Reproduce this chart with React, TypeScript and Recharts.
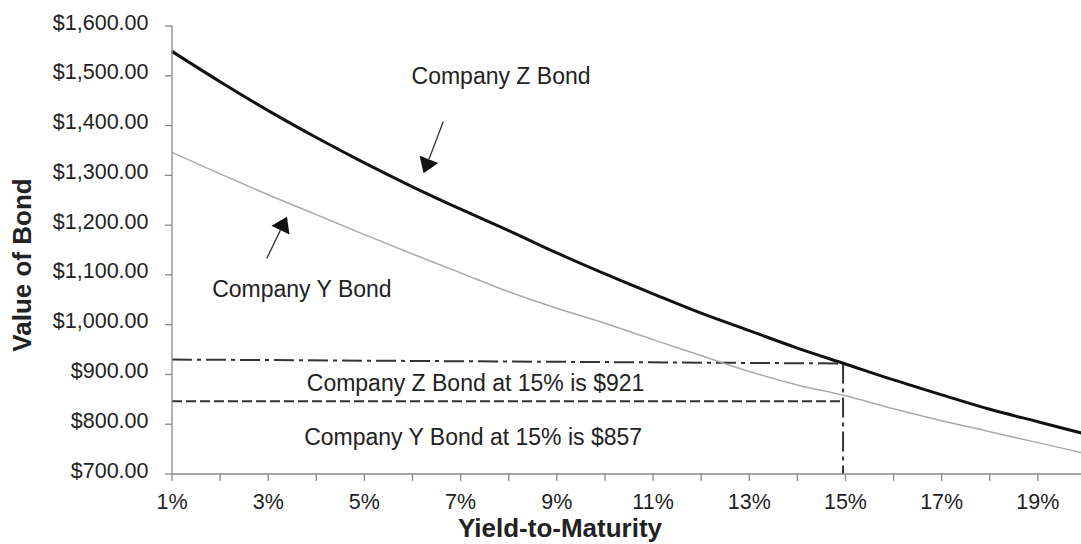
import React from "react";
import {
  LineChart,
  Line,
  XAxis,
  YAxis,
  ReferenceLine,
  ReferenceDot,
} from "recharts";

// yield-to-maturity (%) and bond values
const yields = [1, 2, 3, 4, 5, 6, 7, 8, 9, 10, 11, 12, 13, 14, 15, 16, 17, 18, 19, 20];
const companyZ = [1549, 1488, 1430, 1376, 1325, 1277, 1232, 1189, 1144, 1102, 1062, 1023, 988, 953, 921, 889, 859, 830, 805, 780];
const companyY = [1346, 1303, 1261, 1221, 1181, 1142, 1104, 1066, 1033, 1003, 970, 938, 906, 879, 857, 831, 807, 785, 763, 741];
const yTicks = [700, 800, 900, 1000, 1100, 1200, 1300, 1400, 1500, 1600];

const data = yields.map((ytm, i) => ({
  ytm,
  zBond: companyZ[i],
  yBond: companyY[i],
}));

const FONT = '"Liberation Sans", Arial, Helvetica, sans-serif';
const INK = "#222";
const AXIS = "#888";

const money = (v: number) =>
  "$" + v.toLocaleString("en-US", { minimumFractionDigits: 2, maximumFractionDigits: 2 });

function XTick({ x, y, payload }: any) {
  if (payload.value % 2 === 0) return <g />;
  return (
    <text x={x} y={y + 26} textAnchor="middle" fontSize={21.5} fill={INK} fontFamily={FONT}>
      {payload.value}%
    </text>
  );
}

function YTick({ x, y, payload }: any) {
  return (
    <text x={x} y={y + 3.5} textAnchor="end" fontSize={21.5} fill={INK} fontFamily={FONT}>
      {money(payload.value)}
    </text>
  );
}

// arrow drawn from segment start (tail) to segment end (tip)
function Arrow(props: any) {
  const { x1, y1, x2, y2 } = props;
  const dx = x2 - x1;
  const dy = y2 - y1;
  const len = Math.sqrt(dx * dx + dy * dy);
  const ux = dx / len;
  const uy = dy / len;
  const bx = x2 - ux * 15;
  const by = y2 - uy * 15;
  const nx = -uy * 10;
  const ny = ux * 10;
  return (
    <g>
      <line x1={x1} y1={y1} x2={bx} y2={by} stroke="#333" strokeWidth={1.3} />
      <polygon
        points={`${x2},${y2} ${bx + nx},${by + ny} ${bx - nx},${by - ny}`}
        fill="#111"
      />
    </g>
  );
}

const noteText = (text: string) => (props: any) => (
  <text
    x={props.cx}
    y={props.cy}
    textAnchor="middle"
    fontSize={23}
    fill={INK}
    fontFamily={FONT}
  >
    {text}
  </text>
);

export default function App() {
  return (
    <div
      style={{
        position: "absolute",
        left: 0,
        top: 0,
        width: 1081,
        height: 544,
        overflow: "hidden",
        background: "#fff",
      }}
    >
      <LineChart
        width={1090}
        height={544}
        data={data}
        margin={{ top: 26, right: 4, bottom: 0, left: 0 }}
        style={{ fontFamily: FONT }}
      >
        <XAxis
          dataKey="ytm"
          type="number"
          domain={[1, 20]}
          ticks={yields}
          interval={0}
          height={70}
          tickSize={7}
          tickMargin={2}
          axisLine={{ stroke: AXIS, strokeWidth: 1.3 }}
          tickLine={{ stroke: AXIS, strokeWidth: 1.3 }}
          tick={<XTick />}
          label={{
            content: () => (
              <text
                x={560}
                y={537}
                textAnchor="middle"
                fontSize={26}
                fontWeight="bold"
                fill={INK}
                fontFamily={FONT}
              >
                Yield-to-Maturity
              </text>
            ),
          }}
        />
        <YAxis
          type="number"
          domain={[700, 1600]}
          ticks={yTicks}
          interval={0}
          width={172}
          tickSize={7}
          tickMargin={16.5}
          axisLine={{ stroke: AXIS, strokeWidth: 1.3 }}
          tickLine={{ stroke: AXIS, strokeWidth: 1.3 }}
          tick={<YTick />}
          label={{
            content: () => (
              <text
                x={22}
                y={265}
                transform="rotate(-90, 22, 265)"
                textAnchor="middle"
                dominantBaseline="central"
                fontSize={26}
                fontWeight="bold"
                fill={INK}
                fontFamily={FONT}
              >
                Value of Bond
              </text>
            ),
          }}
        />

        <ReferenceLine
          segment={[
            { x: 1, y: 930 },
            { x: 14.95, y: 922 },
          ]}
          stroke="#333"
          strokeWidth={2}
          strokeDasharray="20 5 4 5"
        />
        <ReferenceLine
          segment={[
            { x: 14.95, y: 922 },
            { x: 14.95, y: 700 },
          ]}
          stroke="#333"
          strokeWidth={2}
          strokeDasharray="20 5 4 5"
        />
        <ReferenceLine
          segment={[
            { x: 1, y: 846 },
            { x: 14.95, y: 846 },
          ]}
          stroke="#333"
          strokeWidth={2}
          strokeDasharray="10 4"
        />

        <Line
          dataKey="yBond"
          type="monotone"
          stroke="#aaa"
          strokeWidth={1.5}
          dot={false}
          isAnimationActive={false}
        />
        <Line
          dataKey="zBond"
          type="monotone"
          stroke="#111"
          strokeWidth={3}
          dot={false}
          isAnimationActive={false}
        />

        <ReferenceLine
          segment={[
            { x: 6.64, y: 1408 },
            { x: 6.23, y: 1304 },
          ]}
          shape={Arrow}
        />
        <ReferenceLine
          segment={[
            { x: 2.97, y: 1133 },
            { x: 3.39, y: 1217 },
          ]}
          shape={Arrow}
        />

        <ReferenceDot x={7.84} y={1483} r={0} shape={noteText("Company Z Bond")} />
        <ReferenceDot x={3.7} y={1056} r={0} shape={noteText("Company Y Bond")} />
        <ReferenceDot x={7.31} y={867} r={0} shape={noteText("Company Z Bond at 15% is $921")} />
        <ReferenceDot x={7.26} y={758} r={0} shape={noteText("Company Y Bond at 15% is $857")} />
      </LineChart>
    </div>
  );
}
